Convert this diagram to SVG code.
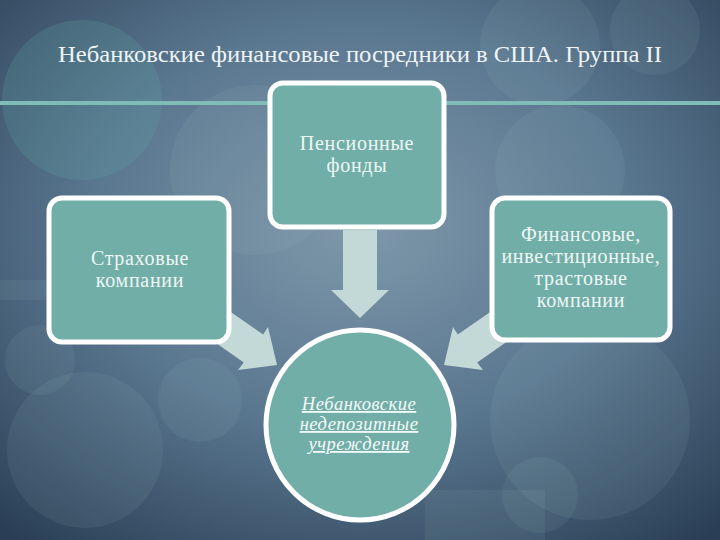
<svg xmlns="http://www.w3.org/2000/svg" width="720" height="540" viewBox="0 0 720 540">
<defs>
<radialGradient id="bg" cx="0.5" cy="0.42" r="0.75">
<stop offset="0" stop-color="#7f98aa"/>
<stop offset="0.5" stop-color="#5a7790"/>
<stop offset="1" stop-color="#2a3f55"/>
</radialGradient>
<style>
.box{fill:#72aea8;stroke:#ffffff;stroke-width:5}
.lbl{font-family:"Liberation Serif","DejaVu Serif",serif;font-size:20px;letter-spacing:0.7px;fill:#eef7f5;text-anchor:middle}
.ital{font-family:"Liberation Serif","DejaVu Serif",serif;font-size:18.5px;letter-spacing:0.5px;font-style:italic;fill:#f4faf9;text-anchor:middle;text-decoration:underline}
.arr{fill:#c3d9d7}
.bub{fill:#a9c9cc;opacity:0.09}
.bubt{fill:#5fa7a6;opacity:0.22}
</style>
</defs>
<rect width="720" height="540" fill="url(#bg)"/>
<g id="background">
<circle class="bubt" cx="82" cy="100" r="80"/>
<circle class="bub" cx="255" cy="170" r="85"/>
<circle class="bub" cx="540" cy="45" r="60"/>
<circle class="bub" cx="655" cy="30" r="45"/>
<circle class="bub" cx="560" cy="170" r="65"/>
<circle class="bub" cx="40" cy="360" r="35"/>
<circle class="bub" cx="85" cy="450" r="78"/>
<circle class="bub" cx="200" cy="400" r="42"/>
<circle class="bub" cx="590" cy="420" r="100"/>
<circle class="bub" cx="540" cy="495" r="38"/>
<rect class="bub" x="0" y="280" width="190" height="20"/>
<rect class="bub" x="425" y="490" width="120" height="50"/>
</g>
<rect x="0" y="101" width="720" height="4" fill="#7fbdb6"/>
<text x="360" y="62" font-family="Liberation Serif, DejaVu Serif, serif" font-size="24" fill="#eef4f6" text-anchor="middle" textLength="604" lengthAdjust="spacingAndGlyphs">Небанковские финансовые посредники в США. Группа II</text>
<g id="connectors">
<polygon class="arr" points="343,230 377,230 377,290 389,290 360,318 331,290 343,290"/>
<polygon class="arr" points="230.4,311.8 263.2,334.6 268,327 277,365 238,370 243.8,362.4 211,339.6"/>
<polygon class="arr" points="490.6,311.8 457.8,334.6 453,327 444,365 483,370 477.2,362.4 510,339.6"/>
</g>
<g id="pension">
<rect class="box" x="270" y="83" width="174" height="144" rx="13"/>
<text class="lbl" x="357" y="150">Пенсионные</text>
<text class="lbl" x="357" y="172">фонды</text>
</g>
<g id="insurance">
<rect class="box" x="49" y="198" width="180" height="144" rx="13"/>
<text class="lbl" x="140" y="265">Страховые</text>
<text class="lbl" x="140" y="287">компании</text>
</g>
<g id="finance">
<rect class="box" x="492" y="198" width="178" height="142" rx="13"/>
<text class="lbl" x="581" y="241">Финансовые,</text>
<text class="lbl" x="581" y="263">инвестиционные,</text>
<text class="lbl" x="581" y="285">трастовые</text>
<text class="lbl" x="581" y="307">компании</text>
</g>
<g id="nonbank">
<ellipse class="box" cx="360" cy="425" rx="94" ry="95"/>
<text class="ital" x="359" y="410">Небанковские</text>
<text class="ital" x="359" y="430">недепозитные</text>
<text class="ital" x="359" y="450">учреждения</text>
</g>
</svg>
